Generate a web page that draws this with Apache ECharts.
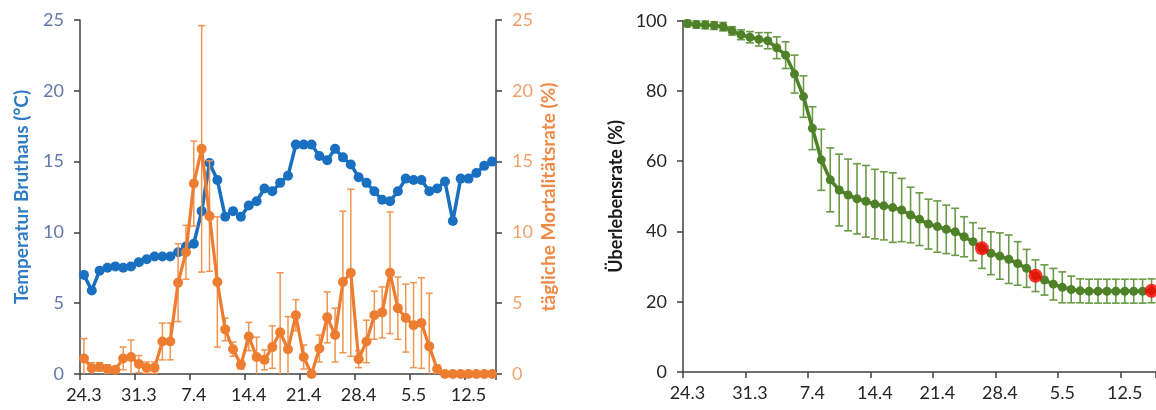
<!DOCTYPE html>
<html><head><meta charset="utf-8">
<script src="https://cdn.jsdelivr.net/npm/echarts@6/dist/echarts.min.js"></script>
<style>html,body{margin:0;padding:0;background:#fff}#c{width:1156px;height:410px}</style>
</head><body><div id="c"></div>
<script>
const categories = ['24.3','25.3','26.3','27.3','28.3','29.3','30.3','31.3',
  '1.4','2.4','3.4','4.4','5.4','6.4','7.4','8.4','9.4','10.4','11.4','12.4','13.4','14.4','15.4','16.4','17.4','18.4','19.4','20.4',
  '21.4','22.4','23.4','24.4','25.4','26.4','27.4','28.4','29.4','30.4',
  '1.5','2.5','3.5','4.5','5.5','6.5','7.5','8.5','9.5','10.5','11.5','12.5','13.5','14.5','15.5'];

const tempValues = [7.0,5.9,7.3,7.5,7.6,7.5,7.6,7.9,8.1,8.3,8.3,8.3,8.6,9.0,9.2,11.5,14.9,13.7,11.1,11.5,
  11.1,11.9,12.2,13.1,12.9,13.5,14.0,16.2,16.2,16.2,15.4,15.1,15.9,15.3,14.8,13.9,13.5,12.9,12.3,12.2,
  12.9,13.8,13.7,13.7,12.9,13.1,13.6,10.8,13.8,13.8,14.2,14.7,15.0];

const mortValues = [1.1,0.4,0.5,0.35,0.3,1.1,1.2,0.7,0.45,0.45,2.3,2.3,6.45,8.6,13.45,15.9,11.15,6.5,3.15,1.75,
  0.65,2.65,1.2,1.0,1.9,2.95,1.75,4.15,1.2,0,1.8,4.0,2.75,6.5,7.15,1.05,2.3,4.15,4.35,7.15,
  4.65,3.95,3.45,3.6,1.95,0.35,0,0,0,0,0,0,0];

const mortErr = [1.4,0.4,0.3,0.3,0.2,0.8,1.2,0.6,0.4,0.4,1.3,1.3,2.75,1.9,3.0,8.7,3.9,4.6,0.8,0.5,
  0.3,1.0,1.4,0.7,1.5,4.2,2.3,1.1,0.85,0,0.95,1.8,1.9,5.0,5.9,0.6,1.5,1.7,1.8,4.3,
  2.2,2.4,3.0,3.2,3.75,0.3,0,0,0,0,0,0,0];

const survValues = [99.2,98.9,98.8,98.6,98.3,97.1,96.0,95.3,94.7,94.3,92.3,90.2,84.8,78.4,69.4,60.4,54.7,51.8,50.4,49.3,
  48.6,47.8,47.3,46.8,46.1,44.7,43.5,42.1,41.4,40.6,39.9,38.5,37.1,35.2,33.8,33.0,32.1,30.9,29.5,27.4,
  26.2,25.0,24.1,23.5,23.1,23.0,23.0,23.0,23.0,23.0,23.0,23.0,23.1];

const survErr = [0.9,1.0,1.1,1.1,1.2,1.2,1.4,1.6,1.9,2.3,3.1,3.8,5.4,5.9,6.1,8.7,9.1,10.2,10.2,10.0,
  10.2,9.9,9.7,9.9,9.0,7.9,7.5,7.1,7.3,6.9,6.7,5.7,5.4,5.7,6.1,6.6,6.9,6.2,5.4,4.5,
  4.3,4.5,4.4,3.8,3.4,3.4,3.4,3.4,3.4,3.4,3.4,3.4,3.4];

const markedDays = ['26.4','2.5','15.5'];

const FONT = 'Lato';
const AX = '#404040';

function errData(vals, errs){
  return vals.map((v,i)=>[i, Math.max(0, v-errs[i]), v+errs[i]]);
}
function errRender(color, capW, lw){
  return function(params, api){
    const i = api.value(0), lo = api.value(1), hi = api.value(2);
    if (hi - lo <= 0) return null;
    const p1 = api.coord([i, hi]), p0 = api.coord([i, lo]);
    const h = capW/2;
    const st = {stroke: color, lineWidth: lw};
    const ch = [
      {type:'line', shape:{x1:p0[0],y1:p0[1],x2:p1[0],y2:p1[1]}, style:st},
      {type:'line', shape:{x1:p1[0]-h,y1:p1[1],x2:p1[0]+h,y2:p1[1]}, style:st}
    ];
    if (lo > 0) ch.push({type:'line', shape:{x1:p0[0]-h,y1:p0[1],x2:p0[0]+h,y2:p0[1]}, style:st});
    return {type:'group', children: ch};
  };
}

function xAxisCfg(gi){
  return {
    type:'category', gridIndex:gi, data:categories, boundaryGap:true,
    axisLine:{lineStyle:{color:AX,width:1.5}},
    axisTick:{show:true, interval:6, length:6, lineStyle:{color:AX,width:1.5}},
    axisLabel:{interval:6, color:'#262626', fontFamily:FONT, fontSize:18, margin:12},
    splitLine:{show:false}
  };
}

const redData = categories.map((c,i)=> markedDays.indexOf(c) >= 0 ? survValues[i] : null);

const option = {
  animation:false,
  backgroundColor:'#fff',
  grid:[
    {left:80, top:20, width:416, height:354},
    {left:683, top:20.7, width:476, height:351.3}
  ],
  xAxis:[xAxisCfg(0), xAxisCfg(1)],
  yAxis:[
    {type:'value', gridIndex:0, position:'left', min:0, max:25, interval:5,
     name:'Temperatur Bruthaus (°C)', nameLocation:'middle', nameRotate:90, nameGap:49,
     nameTextStyle:{color:'#2e7bc4', fontFamily:FONT, fontSize:19, fontWeight:'bold'},
     axisLine:{show:true, lineStyle:{color:AX,width:1.5}},
     axisTick:{show:true, length:6, lineStyle:{color:AX,width:1.5}},
     axisLabel:{color:'#6478ad', fontFamily:FONT, fontSize:18, margin:16},
     splitLine:{show:false}},
    {type:'value', gridIndex:0, position:'right', min:0, max:25, interval:5,
     name:'tägliche Mortalitätsrate (%)', nameLocation:'middle', nameRotate:90, nameGap:43,
     nameTextStyle:{color:'#ee8a45', fontFamily:FONT, fontSize:19, fontWeight:'bold'},
     axisLine:{show:true, lineStyle:{color:AX,width:1.5}},
     axisTick:{show:true, length:6, lineStyle:{color:AX,width:1.5}},
     axisLabel:{color:'#f0a26c', fontFamily:FONT, fontSize:18, margin:16},
     splitLine:{show:false}},
    {type:'value', gridIndex:1, position:'left', min:0, max:100, interval:20,
     name:'Überlebensrate (%)', nameLocation:'middle', nameRotate:90, nameGap:58,
     nameTextStyle:{color:'#1a1a1a', fontFamily:FONT, fontSize:18, fontWeight:'bold'},
     axisLine:{show:true, lineStyle:{color:AX,width:1.5}},
     axisTick:{show:true, length:6, lineStyle:{color:AX,width:1.5}},
     axisLabel:{color:'#262626', fontFamily:FONT, fontSize:18, margin:16},
     splitLine:{show:false}}
  ],
  series:[
    {type:'line', name:'Temperatur', xAxisIndex:0, yAxisIndex:0, data:tempValues,
     symbol:'circle', symbolSize:10, showAllSymbol:true, lineStyle:{color:'#1a70c0', width:3.5},
     itemStyle:{color:'#1a70c0'}, z:2},
    {type:'custom', name:'Mortalität SD', xAxisIndex:0, yAxisIndex:1,
     data:errData(mortValues, mortErr), renderItem:errRender('#f0954f', 7, 1.5), z:3},
    {type:'line', name:'Mortalität', xAxisIndex:0, yAxisIndex:1, data:mortValues,
     symbol:'circle', symbolSize:10, showAllSymbol:true, lineStyle:{color:'#ed7d31', width:3.2},
     itemStyle:{color:'#ed7d31'}, z:4},
    {type:'custom', name:'Überleben SD', xAxisIndex:1, yAxisIndex:2,
     data:errData(survValues, survErr), renderItem:errRender('#6a9a45', 8, 1.6), z:2},
    {type:'line', name:'Überleben', xAxisIndex:1, yAxisIndex:2, data:survValues,
     symbol:'circle', symbolSize:9, showAllSymbol:true, lineStyle:{color:'#4f8129', width:3.5},
     itemStyle:{color:'#4f8129'}, z:3},
    {type:'scatter', name:'markiert', xAxisIndex:1, yAxisIndex:2, data:redData,
     symbol:'circle', symbolSize:14, itemStyle:{color:'#ff0000'}, z:5}
  ]
};
const chart = echarts.init(document.getElementById('c'), null, {renderer:'canvas'});
chart.setOption(option);
</script></body></html>
